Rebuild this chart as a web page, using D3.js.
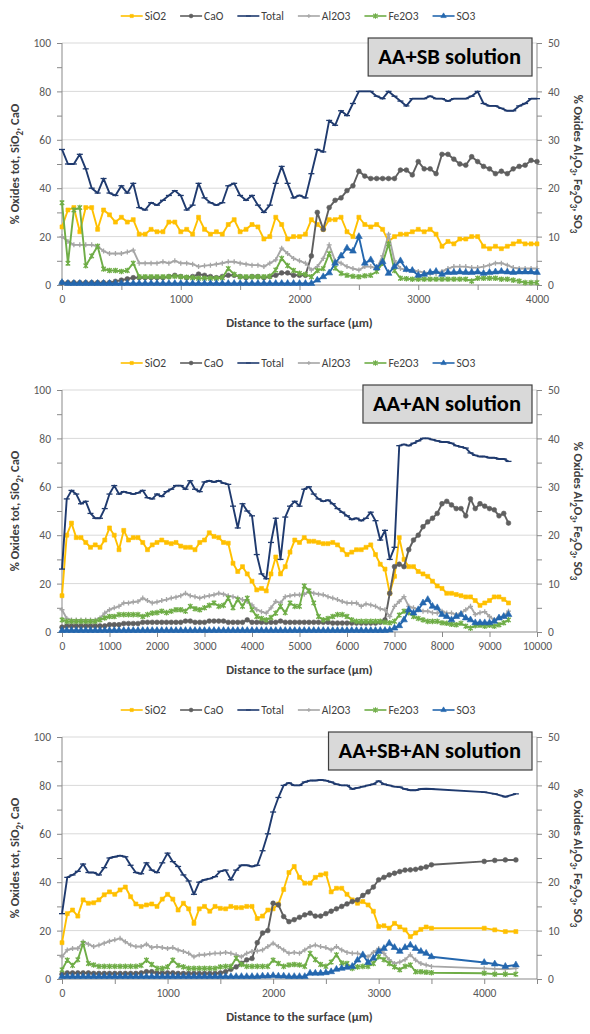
<!DOCTYPE html>
<html>
<head>
<meta charset="utf-8">
<script src="https://cdn.jsdelivr.net/npm/d3@7"></script>
<style>
  body { margin: 0; background: #fff; }
  svg { display: block; }
  text { font-family: Carlito, Lato, "Open Sans", sans-serif; }
</style>
</head>
<body>
<div id="chart"></div>
<script>
// ---- data ----
var SERIES_NAMES = ['SiO2', 'CaO', 'Total', 'Al2O3', 'Fe2O3', 'SO3'];
var PANEL_TITLES = ['AA+SB solution', 'AA+AN solution', 'AA+SB+AN solution'];
var X_TITLE = 'Distance to the surface (µm)';
var LEFT_TICKS = [0, 20, 40, 60, 80, 100];
var RIGHT_TICKS = [0, 10, 20, 30, 40, 50];

// panel 1 : AA+SB
var P1_X = [0,50,100,150,200,250,300,350,400,450,500,550,600,650,700,750,800,850,900,950,
  1000,1050,1100,1150,1200,1250,1300,1350,1400,1450,1500,1550,1600,1650,1700,1750,1800,1850,1900,1950,
  2000,2050,2100,2150,2200,2250,2300,2350,2400,2450,2500,2550,2600,2650,2700,2750,2800,2850,2900,2950,
  3000,3050,3100,3150,3200,3250,3300,3350,3400,3450,3500,3550,3600,3650,3700,3750,3800,3850,3900,3950,4000];
var P1_XTICKS = [0, 1000, 2000, 3000, 4000];
var P1_SIO2 = [24,31,32,22,32,32,23,31,29,26, 28,26,27,21,21,23,22,22,26,26, 22,23,21,28,23,21,22,21,25,27,
  22,23,25,24,19,20,28,25,19,20, 20,21,27,25,23,27,27,28,22,20, 28,25,24,25,23,18,20,21,21,22,
  23,22,23,21,16,18,17,19,19,20, 20,16,15,16,15,16,17,18,17,17, 17];
var P1_CAO = [1,1,1,1,1,1,1,1,1,1.5, 2,2.5,3,3,3,3,3,3,3.5,4, 3.5,3,3.5,4.5,4,3.5,3,3.5,4,4,
  3.5,3,3.5,3.5,3,3.5,4,5,5,4, 4,4,12,30,23,32,35,36,39,41, 47,45,44,44,44,44,44,47.5,47.5,45.5,
  51,48,48,46,54,54,52,50,49.5,53, 51,49,48,46,47,46,48,49,49.5,51.5, 51];
var P1_TOTAL = [56,50,50,54,48,40,38,44,38,37, 41,38,42,32,31,34,33,35,37,39, 37,31,33,42,36,34,33,34,41,42,
  37,35,37,33,30,33,42,49,42,36, 37,36,46,56,55,68,66,72,70,75, 80,80,80,78,77,80,78,76,74,77,
  77,77,78,77,77,76,77,77,77,78, 80,75,74,74,73,72,72,74,75,77, 77];
var P1_AL2O3 = [10,9,8.3,8.3,8.3,8.3,8,7,6.5,6.5, 6.5,6.8,7.2,4.5,4.5,4.5,4.5,4.8,4.5,5, 4.5,4.5,4.3,3.8,4,4.1,4.3,4.5,4.8,4.8,
  4.5,4.3,4.1,4.1,3.8,4.5,5.2,7.6,6.5,5.5, 5,4.5,3.1,3.8,5.5,8.3,5,4.5,3.8,3.4, 3.1,3.8,3.8,3.4,6,10.5,5,3.4,3.1,3.1,
  2.8,2.6,2.4,2.4,2.8,3.4,3.8,3.8,3.8,3.6, 3.6,3.8,4.1,4.5,4.5,4.1,3.6,3.4,3.4,3.4, 3.4];
var P1_FE2O3 = [17,4.5,15.5,16,4,6,8,3.3,3,3, 2.8,3,4.5,1.7,1.7,1.7,1.7,1.7,1.7,1.8, 1.7,1.6,1.5,1.4,1.4,1.4,1.4,1.5,3.4,2.2,
  1.7,1.7,1.7,1.7,1.7,1.8,3.1,5.5,4,3, 2.4,2.2,1.7,3,3.4,6.5,3.5,2.4,2,1.8, 1.7,1.9,2,2.8,4.5,8.5,3,1.4,1.3,1.2,
  1.2,1.2,1.2,1.2,1.2,1.2,1.2,1.2,1.2,0.8, 1.4,1.4,1.4,1.4,1.2,1.2,1,0.8,0.5,0.5, 0.5];
var P1_SO3 = [0.5,0.3,0.3,0.3,0.3,0.3,0.3,0.3,0.3,0.3, 0.3,0.3,0.3,0.3,0.3,0.3,0.3,0.3,0.3,0.3, 0.3,0.3,0.3,0.3,0.3,0.3,0.3,0.3,0.3,0.3,
  0.3,0.3,0.3,0.3,0.3,0.3,0.3,0.3,0.3,0.3, 0.3,0.3,0.3,1,1.7,2.5,4.5,6,7.6,7, 10,4.5,5.2,3.5,4.8,2.4,3.8,5,3.2,3,
  2,2.2,2.6,2.8,2.2,2.6,2.6,2.7,2.6,2.6, 2.7,2.4,2.6,2.7,2.8,2.7,2.6,2.7,2.7,2.7, 2.6];

// panel 2 : AA+AN
var P2_X = [0,100,200,300,400,500,600,700,800,900,1000,1100,1200,1300,1400,1500,1600,1700,1800,1900,
  2000,2100,2200,2300,2400,2500,2600,2700,2800,2900,3000,3100,3200,3300,3400,3500,3600,3700,3800,3900,
  4000,4100,4200,4300,4400,4500,4600,4700,4800,4900,5000,5100,5200,5300,5400,5500,5600,5700,5800,5900,
  6000,6100,6200,6300,6400,6500,6600,6700,6800,6900,7000,7100,7200,7300,7400,7500,7600,7700,7800,7900,
  8000,8100,8200,8300,8400,8500,8600,8700,8800,8900,9000,9100,9200,9300,9400];
var P2_XTICKS = [0,1000,2000,3000,4000,5000,6000,7000,8000,9000,10000];
var P2_SIO2 = [15,40,45,39,39,37,35,36,35,38, 43,40,34,42,38,39,39,37,34,36, 37,38,37,36.5,37,35.5,35,35,34,37,
  38,41,39.5,39,37,36.7,28.4,25,27,24, 21,17.4,18,17,24,31,24,27,33,38, 37,39,37.5,37.5,37,36.5,36.5,37,36,34,
  32,33,34,34,35,36,32,28,26,16, 23,39,30,27,27,25,24,23,21,19, 18,16,16,15.5,15,14.5,14.5,13,11,12, 13,14.5,14.5,13.5,12];
var P2_CAO = [2,2.5,2.5,2.5,2.5,2.5,2.5,2.5,2.5,2.5, 3,3,3,3.5,3.5,3.5,3.5,4,4,4, 4,4,4,4,4,4,4.5,4.5,4,4,
  4,4.5,4.5,4.5,4.5,4,4,4,4,5, 4,4,4,4,4,4,4.5,4,4,4, 4,4,4,4,4,4,4,3.7,3.7,3.7,
  3.7,3.7,3.7,3.7,3.7,3.7,3.7,4,5,16, 27,28,27,34,38,40,43.5,45.5,47,49, 53,54,52.5,51,51,48,55,51,53,52, 51,50.5,48,49,45];
var P2_TOTAL = [26,55,58.5,57,53,54,49,47,47,51, 57,60.5,57,58,57.5,57,57.5,58.5,55.5,55, 57,56,58,59,60.5,60.5,59,62.5,59,58,
  62,62.5,62,62.5,61.5,61,52,43,53,50, 48,32,24,22,37,47,30,47.5,52,54, 52,59,60,57,55,54,54.5,53,51,49.5,
  48,46.5,47,46,47,49.5,46,38,42,30, 35,77,77.5,77,78,79,80,80,79.5,79, 78.5,78.5,78,77,76.5,76,74,73,72.5,72.5, 72,72,71.5,71.5,70.5];
var P2_AL2O3 = [4.6,2.8,2.5,2.5,2.5,2.5,2.5,2.5,2.9,3.9, 4.6,5,5.3,6,6,6.2,6.3,7,6.5,6, 6.2,6.5,6.7,7,7.2,7.5,8,7.5,7.3,7,
  7.3,7.5,7.7,8,7.8,7.5,7.3,7,6.7,6.3, 5.6,4.6,4.2,3.9,5,6.3,6,7.3,7.5,7.7, 7.7,7.8,8.4,8,7.8,7.7,7.3,7,6.7,6.3,
  6,6,6,5.3,5.8,5.6,5.3,4.8,4.6,3.2, 5.3,6.3,7.3,5.3,5,4.6,4.3,4.3,4,3.9, 4.3,3.9,3.9,3.6,3.9,4.6,5.3,3.6,4,4.2, 3.2,2.5,3,3.2,4.3];
var P2_FE2O3 = [2.5,2.2,2.2,2.2,2.2,2.2,2.2,2.2,2.5,2.9, 3.2,3.2,3.6,3.6,3.6,3.6,3.6,3.2,3.6,3.9, 4,4.3,4,4.3,4.6,4.6,4.3,5.3,4.8,4.6,
  5,5.5,6,5.3,5.5,7,5,6.7,5.3,7, 4.6,3.2,2.8,2.5,3,3.9,5.3,4,6,5.3, 5.3,9.5,8.5,6,3.2,2.5,2.8,3.2,3.6,3.6,
  3.2,2.5,2.2,2.2,2.2,2.2,2.2,2.2,2,1.9, 2.2,3.5,4.3,4,3.2,2.8,2.5,2.2,2.2,2.2, 1.9,1.8,1.6,1.5,1.8,1.2,0.8,1.3,1.4,1.2, 1.4,1.2,1.5,1.9,2.5];
var P2_SO3 = [0.3,0.3,0.3,0.3,0.3,0.3,0.3,0.3,0.3,0.3, 0.3,0.3,0.3,0.3,0.3,0.3,0.3,0.3,0.3,0.3, 0.3,0.3,0.3,0.3,0.3,0.3,0.3,0.3,0.3,0.3,
  0.3,0.3,0.3,0.3,0.3,0.3,0.3,0.3,0.3,0.3, 0.3,0.3,0.3,0.3,0.3,0.3,0.3,0.3,0.3,0.3, 0.3,0.3,0.3,0.3,0.3,0.3,0.3,0.3,0.3,0.3,
  0.3,0.3,0.3,0.3,0.3,0.3,0.3,0.3,0.3,0.4, 0.8,1.3,2.5,4.6,3.9,4.6,6,6.7,5.3,5, 3.6,3.2,2.5,3.2,3.6,2.9,2.5,1.9,1.9,1.9, 1.9,2.2,2.9,3.2,3.6];

// panel 3 : AA+SB+AN
var P3_X = [0,50,100,150,200,250,300,350,400,450,500,550,600,650,700,750,800,850,900,950,
  1000,1050,1100,1150,1200,1250,1300,1350,1400,1450,1500,1550,1600,1650,1700,1750,1800,1850,1900,1950,
  2000,2050,2100,2150,2200,2250,2300,2350,2400,2450,2500,2550,2600,2650,2700,2750,2800,2850,2900,2950,
  3000,3050,3100,3150,3200,3250,3300,3350,3400,3450,3500,4000,4100,4200,4300];
var P3_XTICKS = [0, 1000, 2000, 3000, 4000];
var P3_SIO2 = [15,27,28.5,26,32.7,31.3,31.5,32.7,34.8,36, 35,36.8,38,34,31,30,30.6,31,30,33, 35,33,28.5,31.3,29,23,29,30,28,30,
  29.2,29,30,29.5,29.5,30,30,25,26,28.5, 29,31,37,44,46.5,42,39.6,39.6,42,43, 43.5,36,37.5,37.5,35,32.7,31.3,32,30.6,28,
  21.7,22,21,23,21.5,20.3,17.5,19,20.5,21.5, 21, 21,20.3,19.6,19.6];
var P3_CAO = [2,2.5,2.5,2.5,2.5,2.5,2.3,2.3,2.3,2.3, 2.3,2.3,2.3,2.3,2.3,2.5,3,3,2.5,2.5, 2.5,2.5,2.3,2.3,2.3,2.3,2.3,2.3,2.3,2.3,
  2.5,3,4,5,6.5,7.9,8.5,15,19,20, 31.3,30.6,25.8,23.7,24.5,25.5,26.5,27.2,26,26, 27,28,29,30,31,32,32.7,34.5,36,38,
  41,42,43,43.7,44.4,45,45.1,45.3,45.8,46.3, 47.2, 48.6,49,49.2,49.2];
var P3_TOTAL = [27,42,43,44.5,47.5,44,44,43,46,50, 50.5,51,50.5,47,44,43.5,48,45,44,48, 52,48.5,46.5,43,40.5,35,40,41,41.5,42.3,
  44.5,45,41,45,47,47,46.5,47,53,60, 69,75,80,81,80,80,81.4,82,82,82.3, 82,81.4,80.5,80,80,78.5,79,79.5,80,80.5,
  81.8,80.5,80,79.5,79.3,78.5,78,78,78.5,78.6, 78.5, 77.2,76.5,75.3,76.5];
var P3_AL2O3 = [4.6,6,6.3,6.3,7.7,7.2,6.7,7,7.4,7.8, 8.1,8.4,7.7,7,6.7,6.7,7.2,6.5,6.7,6.5, 6.3,6.5,6,5.7,5.3,4.6,5,5,5.2,5.3,
  5.3,5.5,5.3,5,4.6,5.3,5.7,5.8,6,6.7, 7.4,6.7,6,5.3,5.5,5.3,6,6.7,7,6.7, 6.5,6,6.7,6,5.5,5.3,5.3,5,4.6,5.5,
  6.3,5.3,4,3.2,3.5,4,5,3.9,3.2,2.9, 2.6, 2.2,2.1,2,2.2];
var P3_FE2O3 = [1.9,3.9,2.8,4,7.4,3.2,2.9,2.6,2.6,2.6, 2.6,2.6,2.6,2.6,2.6,2.8,3.9,3,2.2,2.2, 2.5,3.9,2.8,2.5,2.2,2.2,2.2,2.2,2.2,2.2,
  2.5,2.6,2.6,4.3,3,2.6,2.6,2.6,2.6,2.6, 3.9,3.2,2.6,2.9,3,2.9,2.6,5.3,4,3, 2.6,3.5,5,3.3,3.2,2.2,2.5,2.6,2.6,3.2,
  4.6,4,3.2,2.5,1.9,2.6,2.9,1.5,1.5,1.4, 1.3, 1.2,1,1,1];
var P3_SO3 = [0.5,0.5,0.5,0.5,0.5,0.5,0.5,0.5,0.5,0.5, 0.5,0.5,0.5,0.5,0.5,0.5,0.5,0.5,0.5,0.5, 0.5,0.5,0.5,0.5,0.5,0.5,0.5,0.5,0.5,0.5,
  0.5,0.5,0.5,0.5,0.5,0.5,0.5,0.5,0.6,0.6, 0.7,0.6,0.6,0.5,0.5,0.5,0.5,1.2,1.2,1.2, 1.3,1.5,2,2.2,2.4,2.6,3.9,5,3.4,4.3,
  5.7,6.3,7.4,6.5,5.7,6.5,7,6.3,5.7,5.3, 4.6, 3.4,3.1,2.6,2.9];

// ---- look ----
var STYLE = {
  SiO2:  { color: '#FFC000', marker: 'square',   axis: 'left'  },
  CaO:   { color: '#5F5F5F', marker: 'circle',   axis: 'left'  },
  Total: { color: '#1F3A6E', marker: 'dash',     axis: 'left'  },
  Al2O3: { color: '#A6A6A6', marker: 'plus',     axis: 'right' },
  Fe2O3: { color: '#6FAD47', marker: 'star',     axis: 'right' },
  SO3:   { color: '#2467AE', marker: 'triangle', axis: 'right' }
};

var panels = [
  { top: 43,  xMax: 4000,  xTicks: P1_XTICKS, minor: 500, title: PANEL_TITLES[0], x: P1_X,
    values: { SiO2: P1_SIO2, CaO: P1_CAO, Total: P1_TOTAL, Al2O3: P1_AL2O3, Fe2O3: P1_FE2O3, SO3: P1_SO3 } },
  { top: 390, xMax: 10000, xTicks: P2_XTICKS, minor: 1000, title: PANEL_TITLES[1], x: P2_X,
    values: { SiO2: P2_SIO2, CaO: P2_CAO, Total: P2_TOTAL, Al2O3: P2_AL2O3, Fe2O3: P2_FE2O3, SO3: P2_SO3 } },
  { top: 737, xMax: 4500,  xTicks: P3_XTICKS, minor: 500, title: PANEL_TITLES[2], x: P3_X,
    values: { SiO2: P3_SIO2, CaO: P3_CAO, Total: P3_TOTAL, Al2O3: P3_AL2O3, Fe2O3: P3_FE2O3, SO3: P3_SO3 } }
];

var W = 590, H = 1034,
    left = 62, right = 537, plotH = 242,
    axisColor = '#898989', gridColor = '#D9D9D9', labelColor = '#595959';

var svg = d3.select('#chart').append('svg').attr('width', W).attr('height', H);

function markerPath(type, k) {
  k = k || 1;
  switch (type) {
    case 'square':   return d3.symbol(d3.symbolSquare, 16 * k * k)();
    case 'circle':   return d3.symbol(d3.symbolCircle, 18 * k * k)();
    case 'triangle': return d3.symbol(d3.symbolTriangle, 20 * k * k)();
    case 'dash':     return 'M' + (-3 * k) + ',0H' + (3 * k);
    case 'plus':     return 'M' + (-2.5 * k) + ',0H' + (2.5 * k) + 'M0,' + (-2.5 * k) + 'V' + (2.5 * k);
    case 'star':     return 'M-2.2,-2.2L2.2,2.2M-2.2,2.2L2.2,-2.2M0,-2.8V2.8';
  }
}
function isFilled(type) {
  return type === 'square' || type === 'circle' || type === 'triangle';
}

// text with numeric subscripts, e.g. "Al2O3" -> Al₂O₃ via tspans
function subText(sel, str, size) {
  var parts = str.split(/(\d)/), down = false;
  parts.forEach(function (p) {
    if (p === '') return;
    var isNum = /^\d$/.test(p);
    var t = sel.append('tspan').text(p);
    if (isNum && !down) { t.attr('dy', size * 0.3).attr('font-size', size * 0.72); down = true; }
    else if (isNum) { t.attr('font-size', size * 0.72); }
    else if (down) { t.attr('dy', -size * 0.3); down = false; }
  });
}

function drawPanel(p) {
  var g = svg.append('g');
  var bottom = p.top + plotH;

  var x = d3.scaleLinear().domain([0, p.xMax]).range([left, right]);
  var yL = d3.scaleLinear().domain([0, 100]).range([bottom, p.top]);
  var yR = d3.scaleLinear().domain([0, 50]).range([bottom, p.top]);

  // gridlines
  g.append('g').selectAll('line').data(LEFT_TICKS.slice(1)).join('line')
    .attr('x1', left).attr('x2', right)
    .attr('y1', function (d) { return yL(d); }).attr('y2', function (d) { return yL(d); })
    .attr('stroke', gridColor).attr('stroke-width', 1);

  // left axis
  var la = g.append('g').attr('transform', 'translate(' + left + ',0)')
    .call(d3.axisLeft(yL).tickValues(d3.range(0, 101, 10)).tickSize(5).tickFormat(function (d) {
      return LEFT_TICKS.indexOf(d) >= 0 ? d : '';
    }));
  // right axis
  var ra = g.append('g').attr('transform', 'translate(' + right + ',0)')
    .call(d3.axisRight(yR).tickValues(d3.range(0, 51, 5)).tickSize(5).tickFormat(function (d) {
      return RIGHT_TICKS.indexOf(d) >= 0 ? d : '';
    }));
  // bottom axis
  var ba = g.append('g').attr('transform', 'translate(0,' + bottom + ')')
    .call(d3.axisBottom(x).tickValues(d3.range(0, p.xMax + 1, p.minor)).tickSize(5).tickFormat(function (d) {
      return p.xTicks.indexOf(d) >= 0 ? d : '';
    }));
  [la, ra, ba].forEach(function (a) {
    a.select('.domain').attr('stroke', axisColor);
    a.selectAll('.tick line').attr('stroke', axisColor);
    a.selectAll('.tick text').attr('fill', labelColor).attr('font-size', 11.5)
      .attr('font-family', 'Carlito, Lato, sans-serif');
  });
  la.select('.domain').attr('d', 'M0,' + bottom + 'V' + p.top);
  ra.select('.domain').attr('d', 'M0,' + bottom + 'V' + p.top);
  ba.select('.domain').attr('d', 'M' + left + ',0H' + right);
  la.selectAll('.tick text').attr('x', -11);
  ra.selectAll('.tick text').attr('x', 11);
  ba.selectAll('.tick text').attr('y', 10);

  // series: primary axis first, then secondary
  SERIES_NAMES.forEach(function (name) {
    var st = STYLE[name], vals = p.values[name];
    var y = st.axis === 'left' ? yL : yR;
    var pts = p.x.map(function (xv, i) { return [xv, vals[i]]; });
    var line = d3.line().x(function (d) { return x(d[0]); }).y(function (d) { return y(d[1]); });
    var sg = g.append('g');
    sg.append('path').attr('d', line(pts)).attr('fill', 'none')
      .attr('stroke', st.color).attr('stroke-width', 1.9).attr('stroke-linejoin', 'round');
    sg.selectAll('path.m').data(pts).join('path').attr('class', 'm')
      .attr('transform', function (d) { return 'translate(' + x(d[0]) + ',' + y(d[1]) + ')'; })
      .attr('d', markerPath(st.marker))
      .attr('fill', isFilled(st.marker) ? st.color : 'none')
      .attr('stroke', st.color).attr('stroke-width', isFilled(st.marker) ? 0.6 : 1.3);
  });

  // axis titles
  var lt = g.append('text')
    .attr('transform', 'translate(19,' + (p.top + plotH / 2) + ') rotate(-90)')
    .attr('text-anchor', 'middle').attr('font-size', 12.5).attr('font-weight', 'bold').attr('fill', '#404040');
  subText(lt, '% Oxides tot, SiO2, CaO', 12.5);
  var rt = g.append('text')
    .attr('transform', 'translate(574,' + (p.top + plotH / 2) + ') rotate(90)')
    .attr('text-anchor', 'middle').attr('font-size', 12.5).attr('font-weight', 'bold').attr('fill', '#404040');
  subText(rt, '% Oxides Al2O3, Fe2O3, SO3', 12.5);
  g.append('text').attr('x', (left + right) / 2).attr('y', bottom + 42)
    .attr('text-anchor', 'middle').attr('font-size', 12.5).attr('font-weight', 'bold').attr('fill', '#404040')
    .text(X_TITLE);

  // title box
  var tb = g.append('g');
  var tt = tb.append('text').attr('font-size', 22.5).attr('font-weight', 'bold').attr('fill', '#000')
    .attr('text-anchor', 'end').attr('x', 521).attr('y', p.top + 21).text(p.title);
  var bb = tt.node().getBBox();
  tb.insert('rect', 'text').attr('x', bb.x - 10).attr('y', p.top - 5)
    .attr('width', 532 - (bb.x - 10)).attr('height', 38)
    .attr('fill', '#D9D9D9').attr('stroke', '#3F3F3F').attr('stroke-width', 1.2);

  // legend
  var lg = g.append('g');
  var cx = 0;
  SERIES_NAMES.forEach(function (name) {
    var st = STYLE[name];
    var it = lg.append('g').attr('transform', 'translate(' + cx + ',0)');
    it.append('line').attr('x1', 0).attr('x2', 22).attr('y1', 0).attr('y2', 0)
      .attr('stroke', st.color).attr('stroke-width', 1.6);
    it.append('path').attr('transform', 'translate(11,0)').attr('d', markerPath(st.marker, 0.8))
      .attr('fill', isFilled(st.marker) ? st.color : 'none').attr('stroke', st.color)
      .attr('stroke-width', isFilled(st.marker) ? 0.6 : 1.1);
    var t = it.append('text').attr('x', 24).attr('y', 4).attr('font-size', 11.5).attr('fill', '#404040').text(name);
    cx += 24 + t.node().getComputedTextLength() + 14;
  });
  var lw = cx - 14;
  lg.attr('transform', 'translate(' + (298 - lw / 2) + ',' + (p.top - 27) + ')');
}

panels.forEach(drawPanel);
</script>
</body>
</html>
